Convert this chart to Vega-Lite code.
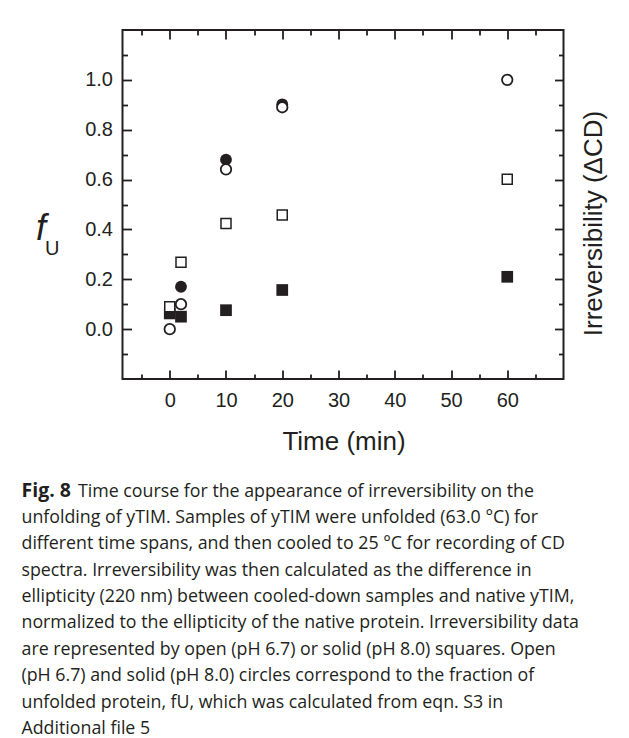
{
  "$schema": "https://vega.github.io/schema/vega-lite/v6.json",
  "autosize": {"type": "none"},
  "width": 441,
  "height": 349,
  "padding": {"left": 122.5, "top": 30, "right": 65.5, "bottom": 359},
  "background": "white",
  "view": {"stroke": "#231f20", "strokeWidth": 2},
  "data": {
    "values": [
      {"time": 0, "value": 0.063, "series": "Irreversibility, pH 8.0"},
      {"time": 2, "value": 0.05, "series": "Irreversibility, pH 8.0"},
      {"time": 10, "value": 0.076, "series": "Irreversibility, pH 8.0"},
      {"time": 20, "value": 0.157, "series": "Irreversibility, pH 8.0"},
      {"time": 60, "value": 0.21, "series": "Irreversibility, pH 8.0"},
      {"time": 0, "value": 0.09, "series": "Irreversibility, pH 6.7"},
      {"time": 2, "value": 0.268, "series": "Irreversibility, pH 6.7"},
      {"time": 10, "value": 0.424, "series": "Irreversibility, pH 6.7"},
      {"time": 20, "value": 0.458, "series": "Irreversibility, pH 6.7"},
      {"time": 60, "value": 0.601, "series": "Irreversibility, pH 6.7"},
      {"time": 2, "value": 0.17, "series": "fU, pH 8.0"},
      {"time": 10, "value": 0.68, "series": "fU, pH 8.0"},
      {"time": 20, "value": 0.902, "series": "fU, pH 8.0"},
      {"time": 0, "value": 0.0, "series": "fU, pH 6.7"},
      {"time": 2, "value": 0.1, "series": "fU, pH 6.7"},
      {"time": 10, "value": 0.641, "series": "fU, pH 6.7"},
      {"time": 20, "value": 0.89, "series": "fU, pH 6.7"},
      {"time": 60, "value": 1.0, "series": "fU, pH 6.7"}
    ]
  },
  "resolve": {"axis": {"x": "independent", "y": "independent"}},
  "layer": [
    {
      "transform": [{"filter": "datum.series === 'Irreversibility, pH 8.0'"}],
      "mark": {"type": "point", "shape": "square", "filled": true, "color": "#231f20", "opacity": 1, "size": 137},
      "encoding": {
        "x": {
          "field": "time", "type": "quantitative",
          "scale": {"domain": [-8.4, 70], "nice": false, "zero": false},
          "axis": {
            "orient": "bottom",
            "values": [-5, 0, 5, 10, 15, 20, 25, 30, 35, 40, 45, 50, 55, 60, 65],
            "labelExpr": "datum.value % 10 === 0 && datum.value >= 0 ? datum.label : ''",
            "labelFont": "Liberation Sans", "labelFontSize": 20, "labelColor": "#231f20",
            "labelBaseline": "alphabetic", "labelPadding": 36, "labelFlush": false, "labelOverlap": false,
            "tickSize": {"condition": {"test": "datum.value % 10 === 0", "value": -9}, "value": -5},
            "tickColor": "#231f20", "tickWidth": 1.8,
            "domain": false, "grid": false,
            "title": "Time (min)",
            "titleFont": "Liberation Sans", "titleFontSize": 26, "titleFontWeight": "normal", "titleColor": "#231f20",
            "titleX": 221, "titleY": 70, "titleBaseline": "alphabetic", "titleAlign": "center"
          }
        },
        "y": {
          "field": "value", "type": "quantitative",
          "scale": {"domain": [-0.2, 1.2], "nice": false, "zero": false},
          "axis": {
            "orient": "left",
            "values": [-0.1, 0, 0.1, 0.2, 0.3, 0.4, 0.5, 0.6, 0.7, 0.8, 0.9, 1.0, 1.1],
            "format": ".1f",
            "labelExpr": "round(datum.value * 10) % 2 === 0 ? datum.label : ''",
            "labelFont": "Liberation Sans", "labelFontSize": 20, "labelColor": "#231f20",
            "labelPadding": 19, "labelFlush": false, "labelOverlap": false,
            "tickSize": {"condition": {"test": "round(datum.value * 10) % 2 === 0", "value": -9}, "value": -5},
            "tickColor": "#231f20", "tickWidth": 1.8,
            "domain": false, "grid": false,
            "title": "f",
            "titleFont": "Liberation Sans", "titleFontSize": 36, "titleFontStyle": "italic", "titleFontWeight": "normal", "titleColor": "#231f20",
            "titleAngle": 0, "titleAlign": "left", "titleBaseline": "alphabetic",
            "titleX": -87, "titleY": 209
          }
        }
      }
    },
    {
      "transform": [{"filter": "datum.series === 'Irreversibility, pH 6.7'"}],
      "mark": {"type": "point", "shape": "square", "filled": true, "fill": "white", "stroke": "#231f20", "strokeWidth": 1.5, "opacity": 1, "size": 100},
      "encoding": {
        "x": {
          "field": "time", "type": "quantitative",
          "axis": {
            "orient": "top",
            "values": [-5, 0, 5, 10, 15, 20, 25, 30, 35, 40, 45, 50, 55, 60, 65],
            "labels": false,
            "tickSize": {"condition": {"test": "datum.value % 10 === 0", "value": -9}, "value": -5},
            "tickColor": "#231f20", "tickWidth": 1.8,
            "domain": false, "grid": false, "title": null
          }
        },
        "y": {
          "field": "value", "type": "quantitative",
          "axis": {
            "orient": "right",
            "values": [-0.1, 0, 0.1, 0.2, 0.3, 0.4, 0.5, 0.6, 0.7, 0.8, 0.9, 1.0, 1.1],
            "labels": false,
            "tickSize": {"condition": {"test": "round(datum.value * 10) % 2 === 0", "value": -9}, "value": -5},
            "tickColor": "#231f20", "tickWidth": 1.8,
            "domain": false, "grid": false,
            "title": "Irreversibility (ΔCD)",
            "titleFont": "Liberation Sans", "titleFontSize": 26, "titleFontWeight": "normal", "titleColor": "#231f20",
            "titleAngle": 270, "titleAlign": "center", "titleBaseline": "alphabetic",
            "titleX": 38, "titleY": 193
          }
        }
      }
    },
    {
      "transform": [{"filter": "datum.series === 'fU, pH 8.0'"}],
      "mark": {"type": "point", "shape": "circle", "filled": true, "color": "#231f20", "opacity": 1, "size": 139},
      "encoding": {
        "x": {
          "field": "time", "type": "quantitative",
          "axis": {
            "orient": "bottom",
            "labels": false, "ticks": false, "domain": false, "grid": false,
            "title": "Fig. 8",
            "titleFont": "Open Sans", "titleFontSize": 19.5, "titleFontWeight": "bold", "titleColor": "#231f20",
            "titleAlign": "left", "titleBaseline": "alphabetic",
            "titleX": -101.5, "titleY": 117
          }
        },
        "y": {
          "field": "value", "type": "quantitative",
          "axis": {
            "orient": "left",
            "labels": false, "ticks": false, "domain": false, "grid": false,
            "title": "U",
            "titleFont": "Liberation Sans", "titleFontSize": 20, "titleFontWeight": "normal", "titleColor": "#231f20",
            "titleAngle": 0, "titleAlign": "left", "titleBaseline": "alphabetic",
            "titleX": -78, "titleY": 224
          }
        }
      }
    },
    {
      "transform": [{"filter": "datum.series === 'fU, pH 6.7'"}],
      "mark": {"type": "point", "shape": "circle", "filled": true, "fill": "white", "stroke": "#231f20", "strokeWidth": 1.8, "opacity": 1, "size": 110},
      "encoding": {
        "x": {
          "field": "time", "type": "quantitative",
          "axis": {
            "orient": "bottom",
            "labels": false, "ticks": false, "domain": false, "grid": false,
            "title": [
              "unfolding of yTIM. Samples of yTIM were unfolded (63.0 °C) for",
              "different time spans, and then cooled to 25 °C for recording of CD",
              "spectra. Irreversibility was then calculated as the difference in",
              "ellipticity (220 nm) between cooled-down samples and native yTIM,",
              "normalized to the ellipticity of the native protein. Irreversibility data",
              "are represented by open (pH 6.7) or solid (pH 8.0) squares. Open",
              "(pH 6.7) and solid (pH 8.0) circles correspond to the fraction of",
              "unfolded protein, fU, which was calculated from eqn. S3 in",
              "Additional file 5"
            ],
            "titleFont": "Open Sans", "titleFontSize": 17.8, "titleFontWeight": "normal", "titleColor": "#231f20",
            "titleAlign": "left", "titleBaseline": "alphabetic", "titleLineHeight": 26.4,
            "titleX": -101.5, "titleY": 143.4
          }
        },
        "y": {
          "field": "value", "type": "quantitative",
          "axis": {
            "orient": "left",
            "labels": false, "ticks": false, "domain": false, "grid": false,
            "title": "Time course for the appearance of irreversibility on the",
            "titleFont": "Open Sans", "titleFontSize": 17.8, "titleFontWeight": "normal", "titleColor": "#231f20",
            "titleAngle": 0, "titleAlign": "left", "titleBaseline": "alphabetic",
            "titleX": -45, "titleY": 466
          }
        }
      }
    }
  ]
}
